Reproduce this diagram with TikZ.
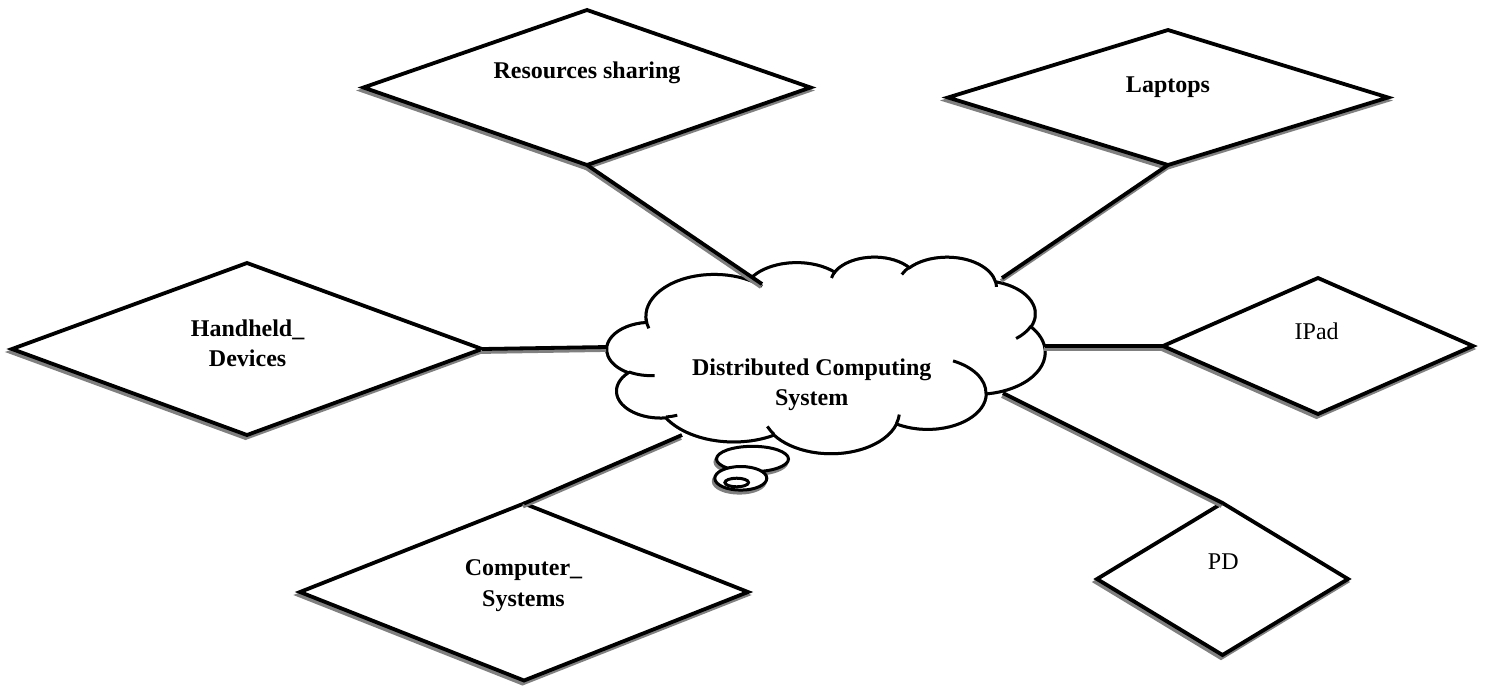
\documentclass[tikz,border=0pt]{standalone}
\usepackage{fontspec}
\setmainfont{Liberation Serif}
\usetikzlibrary{shapes.geometric}
\definecolor{shadowgray}{RGB}{128,128,128}

% cloud geometry: arcs given in a 43.2 x 43.2 frame (y down), visual angles
\newcommand\cloudsx{10.139}
\newcommand\cloudsy{4.5486}
\newcommand\cloudpt[3]{\coordinate (#1) at ({607+(#2)*\cloudsx},{-256.5-(#3)*\cloudsy});}
\newcommand\arcspec[4]{%
  \pgfmathsetmacro\cta{atan2((#1)*sin(#3),(#2)*cos(#3))}%
  \pgfmathsetmacro\ctb{atan2((#1)*sin((#3)+(#4)),(#2)*cos((#3)+(#4)))}%
  \pgfmathsetmacro\ctb{\ctb<\cta ? \ctb+360 : \ctb}%
  \pgfmathsetmacro\csa{-1*(\cta)}%
  \pgfmathsetmacro\csb{-1*(\ctb)}%
  \pgfmathsetmacro\crx{(#1)*\cloudsx}%
  \pgfmathsetmacro\cry{(#2)*\cloudsy}%
  \xdef\thearc{arc[start angle=\csa, end angle=\csb, x radius=\crx pt, y radius=\cry pt]}%
}
\gdef\cloudpath{}
\newcommand\addarc[4]{\arcspec{#1}{#2}{#3}{#4}\xdef\cloudpath{\cloudpath\thearc}}
\newcommand\cloudstub[6]{\cloudpt{stub}{#1}{#2}\arcspec{#3}{#4}{#5}{#6}\draw[cloudline] (stub) \thearc;}
\newcommand\rhombus[5]{%
  \node[rhombsh, minimum width=#4pt, minimum height=#5pt] (#1-sh) at ({#2-1.5},{-#3-3}) {};
  \node[rhomb, minimum width=#4pt, minimum height=#5pt] (#1) at (#2,-#3) {};
}

\begin{document}
\begin{tikzpicture}[x=1pt,y=1pt,
  lbl/.style={font=\fontsize{24}{30.5}\selectfont\bfseries, align=center, inner sep=0pt},
  lblplain/.style={font=\fontsize{24}{30.5}\selectfont, align=center, inner sep=0pt},
  rhomb/.style={diamond, draw=black, fill=white, line width=3.8pt, inner sep=0pt, outer sep=0pt},
  rhombsh/.style={diamond, draw=shadowgray, fill=shadowgray, line width=3.8pt, inner sep=0pt, outer sep=0pt},
  link/.style={line width=3.8pt, preaction={draw=shadowgray, line width=3.8pt, transform canvas={xshift=-1pt, yshift=-3pt}}},
  cloudline/.style={line width=3pt},
  cloudshadow/.style={draw=shadowgray, fill=shadowgray, line width=3pt},
]
\fill[white] (0,0) rectangle (1485,-686);
\useasboundingbox (0,0) rectangle (1485,-686);

% --- cloud outline
\addarc{6.753}{9.190}{-190.487}{123.781}
\addarc{5.333}{7.267}{-144.102}{89.945}
\addarc{4.365}{5.945}{-145.808}{99.723}
\addarc{4.857}{6.595}{-130.986}{117.242}
\addarc{5.333}{7.273}{-78.709}{109.027}
\addarc{6.775}{9.220}{-46.267}{130.269}
\addarc{5.785}{7.867}{0.625}{114.033}
\addarc{6.752}{9.215}{22.452}{115.173}
\addarc{7.720}{10.543}{66.243}{75.711}
\addarc{4.360}{5.918}{-274.942}{146.736}
\addarc{4.345}{5.945}{-246.829}{152.519}
\cloudpt{cs}{3.900}{14.370}
\draw[cloudshadow, shift={(-1.5,-3)}] (cs) \cloudpath -- cycle;
\draw[cloudline, fill=white] (cs) \cloudpath -- cycle;

% --- thought bubbles
\draw[cloudshadow] (751,-462) ellipse [x radius=36, y radius=12.7];
\draw[cloudline, fill=white] (752.5,-459) ellipse [x radius=36, y radius=12.7];
\draw[cloudshadow] (739.3,-481.3) ellipse [x radius=26, y radius=11.8];
\draw[cloudline, fill=white] (740.8,-478.3) ellipse [x radius=26, y radius=11.8];
\draw[cloudline] (736.7,-482.5) ellipse [x radius=11.8, y radius=4.3];

% --- inner arcs of the cloud
\cloudstub{4.693}{26.177}{4.345}{5.945}{86.742}{26.430}
\cloudstub{6.928}{34.899}{4.360}{5.918}{73.610}{11.447}
\cloudstub{16.478}{39.090}{6.752}{9.215}{137.624}{14.081}
\cloudstub{28.827}{34.751}{6.752}{9.215}{6.453}{15.998}
\cloudstub{34.129}{22.954}{5.785}{7.867}{-70.292}{70.917}
\cloudstub{41.798}{15.354}{5.333}{7.273}{30.318}{27.752}
\cloudstub{38.324}{5.426}{4.857}{6.595}{-13.744}{14.859}
\cloudstub{29.078}{3.952}{4.857}{6.595}{-149.181}{18.195}
\cloudstub{22.141}{4.720}{4.365}{5.945}{-163.494}{17.686}
\cloudstub{14.000}{5.192}{6.753}{9.190}{-66.707}{12.319}
\cloudstub{4.127}{15.789}{6.753}{9.190}{157.154}{17.156}

\node[lbl] (dcs) at (811.7,-384.8) {Distributed Computing\\System};

% --- attribute diamonds
\rhombus{res}{587}{87.5}{447}{155}
\rhombus{lap}{1168}{97.5}{440}{135}
\rhombus{hand}{247}{349}{470}{172}
\rhombus{ipad}{1318}{346}{310}{136}
\rhombus{pd}{1222.5}{579}{251}{152}
\rhombus{comp}{524}{592}{448}{177}

% --- connection points on the cloud
\coordinate (c-res) at (762,-284);
\coordinate (c-lap) at (1002,-278);
\coordinate (c-hand) at (607,-347);
\coordinate (c-ipad) at (1045,-346);
\coordinate (c-pd) at (1003,-393);
\coordinate (c-comp) at (682,-435);

\draw[link] (res.south) -- (c-res);
\draw[link] (lap.south) -- (c-lap);
\draw[link] (hand.east) -- (c-hand);
\draw[link] (c-ipad) -- (ipad.west);
\draw[link] (c-pd) -- (pd.north);
\draw[link] (c-comp) -- (comp.north);

% --- labels
\node[lbl, anchor=base] (t-res) at (587,-78) {Resources sharing};
\node[lbl, anchor=base] (t-lap) at (1168,-92.7) {Laptops};
\node[lbl] (t-hand) at (247.6,-343.5) {Handheld\_\\Devices};
\node[lblplain, anchor=base] (t-ipad) at (1316.7,-339.3) {IPad};
\node[lblplain, anchor=base] (t-pd) at (1223.3,-569) {PD};
\node[lbl] (t-comp) at (523.5,-585.8) {Computer\_\\Systems};
\end{tikzpicture}
\end{document}
